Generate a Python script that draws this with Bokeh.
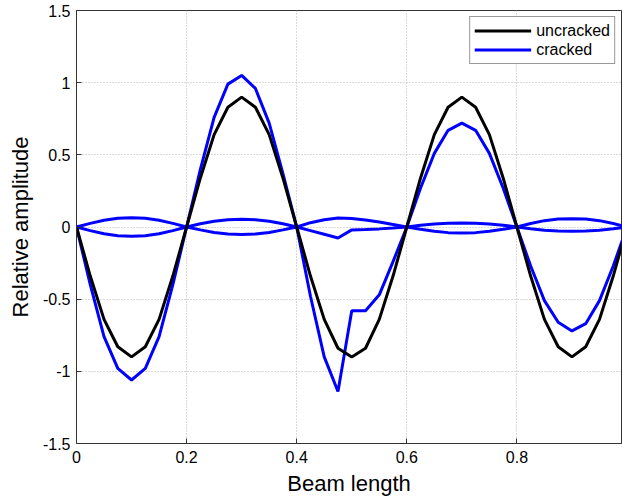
from bokeh.plotting import figure
from bokeh.models import Range1d, FixedTicker, Legend, LegendItem
from bokeh.embed import file_html
from bokeh.resources import INLINE

beam_x = [0.0, 0.025, 0.05, 0.075, 0.1, 0.125, 0.15, 0.175, 0.2, 0.225,
          0.25, 0.275, 0.3, 0.325, 0.35, 0.375, 0.4, 0.425, 0.45, 0.475,
          0.5, 0.525, 0.55, 0.575, 0.6, 0.625, 0.65, 0.675, 0.7, 0.725,
          0.75, 0.775, 0.8, 0.825, 0.85, 0.875, 0.9, 0.925, 0.95, 0.975, 1.0]

uncracked = [0, -0.34, -0.64, -0.83, -0.90, -0.83, -0.64, -0.34, 0,
             0.34, 0.64, 0.83, 0.90, 0.83, 0.64, 0.34, 0,
             -0.34, -0.64, -0.84, -0.90, -0.84, -0.64, -0.34, 0,
             0.34, 0.64, 0.83, 0.90, 0.83, 0.64, 0.34, 0,
             -0.34, -0.64, -0.83, -0.90, -0.83, -0.64, -0.34, 0]

cracked = [0, -0.40, -0.76, -0.98, -1.06, -0.98, -0.76, -0.40, 0,
           0.40, 0.76, 0.99, 1.05, 0.96, 0.72, 0.37, 0,
           -0.48, -0.90, -1.14, -0.58, -0.58, -0.47, -0.24, 0,
           0.27, 0.51, 0.67, 0.72, 0.67, 0.51, 0.27, 0,
           -0.27, -0.51, -0.66, -0.72, -0.67, -0.51, -0.27, 0]

cracked_small_a = [0, 0.025, 0.047, 0.060, 0.064, 0.060, 0.047, 0.025, 0,
                   -0.020, -0.038, -0.048, -0.052, -0.048, -0.038, -0.020, 0,
                   0.030, 0.050, 0.063, 0.059, 0.049, 0.035, 0.018, 0,
                   -0.016, -0.030, -0.039, -0.042, -0.039, -0.030, -0.016, 0,
                   0.024, 0.044, 0.055, 0.058, 0.055, 0.044, 0.024, 0]

cracked_small_b = [0, -0.025, -0.047, -0.060, -0.064, -0.060, -0.047, -0.025, 0,
                   0.022, 0.040, 0.050, 0.054, 0.050, 0.040, 0.022, 0,
                   -0.025, -0.050, -0.076, -0.020, -0.017, -0.013, -0.007, 0,
                   0.012, 0.021, 0.026, 0.028, 0.026, 0.021, 0.012, 0,
                   -0.012, -0.022, -0.028, -0.030, -0.028, -0.022, -0.012, 0]

x_ticks = [0, 0.2, 0.4, 0.6, 0.8]
x_tick_labels = ["0", "0.2", "0.4", "0.6", "0.8"]
y_ticks = [-1.5, -1, -0.5, 0, 0.5, 1, 1.5]
y_tick_labels = ["-1.5", "-1", "-0.5", "0", "0.5", "1", "1.5"]

FONT = "Liberation Sans"
AXIS_COLOR = "#333333"

p = figure(width=622, height=498,
           x_range=Range1d(0, 0.99), y_range=Range1d(-1.5, 1.5),
           output_backend="svg", toolbar_location=None,
           min_border_left=76, min_border_right=1,
           min_border_top=10, min_border_bottom=54)
p.background_fill_color = "white"
p.border_fill_color = "white"
p.outline_line_color = AXIS_COLOR
p.outline_line_width = 1

p.xgrid.ticker = FixedTicker(ticks=x_ticks)
p.ygrid.ticker = FixedTicker(ticks=y_ticks)
p.grid.grid_line_color = "#b4b4b4"
p.grid.grid_line_dash = "1 2"
p.grid.grid_line_width = 1

def style_axis(ax, ticks, labels):
    ax.ticker = FixedTicker(ticks=ticks)
    ax.major_label_overrides = {t: l for t, l in zip(ticks, labels)}
    ax.minor_tick_line_color = None
    ax.major_tick_in = 5
    ax.major_tick_out = 0
    ax.major_tick_line_color = AXIS_COLOR
    ax.axis_line_color = AXIS_COLOR
    ax.major_label_text_font = FONT
    ax.major_label_text_color = "black"
    ax.major_label_text_font_size = "16px"
    ax.axis_label_text_font = FONT
    ax.axis_label_text_font_size = "22px"
    ax.axis_label_text_font_style = "normal"
    ax.axis_label_text_color = "black"

style_axis(p.xaxis[0], x_ticks, x_tick_labels)
style_axis(p.yaxis[0], y_ticks, y_tick_labels)
p.xaxis[0].major_label_standoff = 7
p.yaxis[0].major_label_standoff = 6
p.xaxis[0].axis_label = "Beam length"
p.yaxis[0].axis_label = "Relative amplitude"
p.xaxis[0].axis_label_standoff = 5
p.yaxis[0].axis_label_standoff = 7

p.line(beam_x, cracked_small_a, line_color="#0000ff", line_width=3)
p.line(beam_x, cracked_small_b, line_color="#0000ff", line_width=3)
r_cr = p.line(beam_x, cracked, line_color="#0000ff", line_width=3)
r_un = p.line(beam_x, uncracked, line_color="#000000", line_width=3)

legend = Legend(items=[LegendItem(label="uncracked", renderers=[r_un]),
                       LegendItem(label="cracked", renderers=[r_cr])],
                location="top_right")
legend.margin = 6
legend.padding = 4
legend.spacing = 0
legend.glyph_width = 57
legend.glyph_height = 19
legend.label_height = 19
legend.label_standoff = 5
legend.label_text_font = FONT
legend.label_text_font_size = "16px"
legend.label_text_color = "black"
legend.border_line_color = AXIS_COLOR
legend.border_line_width = 1
legend.background_fill_color = "white"
legend.background_fill_alpha = 1
p.add_layout(legend)

open("out.html", "w").write(file_html(p, INLINE))
